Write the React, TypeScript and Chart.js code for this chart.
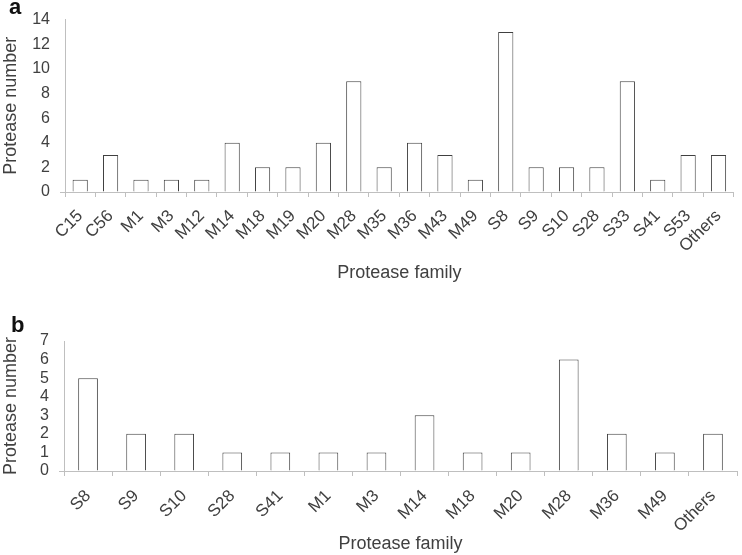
import React, { useEffect, useRef } from "react";
import { Chart, registerables } from "chart.js";

Chart.register(...registerables);

const familiesA = ["C15", "C56", "M1", "M3", "M12", "M14", "M18", "M19", "M20", "M28", "M35", "M36", "M43", "M49", "S8", "S9", "S10", "S28", "S33", "S41", "S53", "Others"];
const countsA = [1, 3, 1, 1, 1, 4, 2, 2, 4, 9, 2, 4, 3, 1, 13, 2, 2, 2, 9, 1, 3, 3];

const familiesB = ["S8", "S9", "S10", "S28", "S41", "M1", "M3", "M14", "M18", "M20", "M28", "M36", "M49", "Others"];
const countsB = [5, 2, 2, 1, 1, 1, 1, 3, 1, 1, 6, 2, 1, 2];

const xTitle = "Protease family";
const yTitle = "Protease number";

const FONT = "'Liberation Sans', Arial, Helvetica, sans-serif";
const TEXT = "#404040";
const AXIS = "#bfbfbf";
const BAR_EDGE = "#404040";

function panelLetter(letter: string, x: number, y: number) {
  return {
    id: "panelLetter" + letter,
    afterDraw(chart: any) {
      const ctx = chart.ctx;
      ctx.save();
      ctx.fillStyle = "#111";
      ctx.font = "bold 22px " + FONT;
      ctx.textBaseline = "alphabetic";
      ctx.textAlign = "left";
      ctx.fillText(letter, x, y);
      ctx.restore();
    },
  };
}

function makeConfig(opts: {
  labels: string[];
  data: number[];
  max: number;
  step: number;
  yWidth: number;
  xHeight: number;
  padTop: number;
  padRight: number;
  barPct: number;
  labelPad: number;
  letter: any;
}) {
  return {
    type: "bar" as const,
    data: {
      labels: opts.labels,
      datasets: [
        {
          data: opts.data,
          backgroundColor: "#ffffff",
          borderColor: BAR_EDGE,
          borderWidth: 1,
          barPercentage: opts.barPct,
          categoryPercentage: 1,
        },
      ],
    },
    options: {
      responsive: false,
      animation: false,
      devicePixelRatio: 1,
      layout: { padding: { top: opts.padTop, right: opts.padRight, left: 0, bottom: 0 } },
      plugins: { legend: { display: false }, tooltip: { enabled: false } },
      scales: {
        x: {
          offset: true,
          grid: {
            display: true,
            offset: true,
            drawOnChartArea: false,
            drawTicks: true,
            tickLength: 5,
            color: AXIS,
          },
          border: { display: true, color: AXIS, width: 1 },
          ticks: {
            autoSkip: false,
            maxRotation: 45,
            minRotation: 45,
            padding: opts.labelPad,
            color: TEXT,
            font: { family: FONT, size: 17 },
          },
          title: {
            display: true,
            text: xTitle,
            color: TEXT,
            font: { family: FONT, size: 18 },
            padding: 0,
          },
          afterFit: (s: any) => {
            s.height = opts.xHeight;
          },
        },
        y: {
          min: 0,
          max: opts.max,
          grid: {
            display: true,
            drawOnChartArea: false,
            drawTicks: true,
            tickLength: 5,
            color: (c: any) => (c.tick && c.tick.value === 0 ? AXIS : "rgba(0,0,0,0)"),
          },
          border: { display: true, color: AXIS, width: 1 },
          ticks: {
            stepSize: opts.step,
            autoSkip: false,
            padding: 10,
            color: TEXT,
            font: { family: FONT, size: 16 },
          },
          title: {
            display: true,
            text: yTitle,
            color: TEXT,
            font: { family: FONT, size: 18 },
            padding: 0,
          },
          afterFit: (s: any) => {
            s.width = opts.yWidth;
          },
        },
      },
    },
    plugins: [opts.letter],
  };
}

export default function App() {
  const refA = useRef<HTMLCanvasElement | null>(null);
  const refB = useRef<HTMLCanvasElement | null>(null);

  useEffect(() => {
    const a = new Chart(
      refA.current as HTMLCanvasElement,
      makeConfig({
        labels: familiesA,
        data: countsA,
        max: 14,
        step: 2,
        yWidth: 65,
        xHeight: 92,
        padTop: 18,
        padRight: 2,
        barPct: 0.5,
        labelPad: 9,
        letter: panelLetter("a", 9, 14),
      }) as any
    );
    const b = new Chart(
      refB.current as HTMLCanvasElement,
      makeConfig({
        labels: familiesB,
        data: countsB,
        max: 7,
        step: 1,
        yWidth: 64,
        xHeight: 84,
        padTop: 36,
        padRight: 5,
        barPct: 0.41,
        labelPad: 10,
        letter: panelLetter("b", 11, 27),
      }) as any
    );
    return () => {
      a.destroy();
      b.destroy();
    };
  }, []);

  return (
    <div style={{ position: "fixed", left: 0, top: 0, width: 742, height: 555, background: "#fff" }}>
      <canvas ref={refA} width={742} height={284} style={{ position: "absolute", left: 0, top: 0, width: 742, height: 284 }} />
      <canvas ref={refB} width={742} height={250} style={{ position: "absolute", left: 0, top: 305, width: 742, height: 250 }} />
    </div>
  );
}
